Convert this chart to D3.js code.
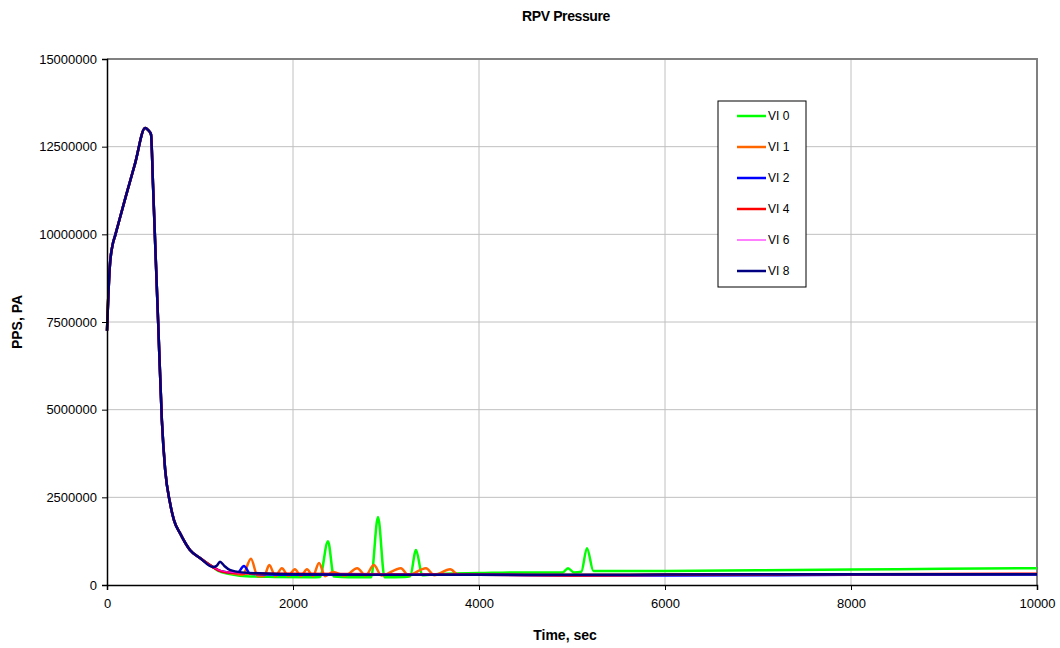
<!DOCTYPE html>
<html>
<head>
<meta charset="utf-8">
<script src="https://cdn.jsdelivr.net/npm/d3@7"></script>
<style>
  body { margin: 0; background: #fff; }
  text { font-family: "Liberation Sans", Arial, sans-serif; }
</style>
</head>
<body>
<div id="chart"></div>
<script>
// chart data (time in sec, pressure in Pa)
const xTicks = [0, 2000, 4000, 6000, 8000, 10000];
const yTicks = [0, 2500000, 5000000, 7500000, 10000000, 12500000, 15000000];
const seriesNames = ["VI 0", "VI 1", "VI 2", "VI 4", "VI 6", "VI 8"];
const seriesColors = ["#00ff00", "#ff6600", "#0000ff", "#ff0000", "#ff00ff", "#000080"];
const seriesWidths = [2.5, 2.5, 2.5, 2.5, 1, 2.5];

// shared blowdown part, same for all runs
const headTime = [0, 28, 60, 86, 200, 300, 410, 440, 473, 495, 520, 550, 590, 625, 677, 720, 785, 892, 1000, 1140];
const headPres = [7250000, 9000000, 9700000, 9950000, 11060000, 12000000, 13030000, 12980000, 12850000, 11400000, 9600000, 7500000, 4700000, 3300000, 2350000, 1850000, 1480000, 1000000, 770000, 510000];

// tails after the runs split up
const vi0Time = [1200, 1350, 1500, 1800, 2200, 2290, 2376, 2440, 2600, 2840, 2914, 2985, 3200, 3260, 3323, 3390, 3600, 4000, 4500, 4800, 4900, 4957, 5020, 5100, 5161, 5230, 5500, 6000, 7000, 8000, 9000, 10000];
const vi0Pres = [400000, 300000, 250000, 230000, 220000, 230000, 1250000, 240000, 220000, 220000, 1940000, 220000, 230000, 250000, 1000000, 280000, 320000, 340000, 360000, 360000, 360000, 480000, 360000, 380000, 1050000, 400000, 400000, 400000, 420000, 440000, 460000, 480000];

const vi1Time = [1200, 1350, 1460, 1548, 1620, 1690, 1745, 1810, 1880, 1950, 2020, 2085, 2150, 2215, 2280, 2345, 2430, 2560, 2690, 2780, 2870, 2950, 3160, 3240, 3430, 3520, 3690, 3780, 4000, 5000, 6000, 8000, 10000];
const vi1Pres = [420000, 330000, 290000, 750000, 250000, 260000, 570000, 250000, 480000, 260000, 450000, 260000, 450000, 260000, 630000, 250000, 370000, 270000, 480000, 270000, 570000, 270000, 480000, 280000, 480000, 280000, 450000, 290000, 300000, 290000, 300000, 310000, 310000];

const vi2Time = [1200, 1300, 1400, 1473, 1540, 1700, 2000, 3000, 4000, 5000, 6000, 8000, 10000];
const vi2Pres = [420000, 360000, 340000, 540000, 320000, 300000, 290000, 290000, 290000, 270000, 270000, 290000, 300000];

const vi4Time = [1200, 1300, 1500, 2000, 3000, 4000, 5000, 6000, 8000, 10000];
const vi4Pres = [420000, 360000, 330000, 320000, 310000, 290000, 270000, 290000, 310000, 320000];

const vi6Time = [1200, 1300, 1500, 2000, 3000, 4000, 6000, 10000];
const vi6Pres = [430000, 370000, 330000, 320000, 310000, 300000, 300000, 310000];

const vi8Time = [1180, 1215, 1260, 1320, 1450, 1700, 2000, 3000, 4000, 5000, 6000, 8000, 10000];
const vi8Pres = [550000, 660000, 550000, 430000, 360000, 330000, 310000, 290000, 290000, 290000, 300000, 310000, 310000];

const tailTimes = [vi0Time, vi1Time, vi2Time, vi4Time, vi6Time, vi8Time];
const tailPres = [vi0Pres, vi1Pres, vi2Pres, vi4Pres, vi6Pres, vi8Pres];

const width = 1060, height = 648;
const margin = {top: 59, right: 23, bottom: 63, left: 107};

const svg = d3.select("#chart").append("svg")
  .attr("width", width)
  .attr("height", height);

const x = d3.scaleLinear().domain([0, 10000]).range([margin.left, width - margin.right]);
const y = d3.scaleLinear().domain([0, 15000000]).range([height - margin.bottom, margin.top]);

// grid
svg.append("g").selectAll("line")
  .data(yTicks.slice(1, -1))
  .join("line")
  .attr("x1", x(0)).attr("x2", x(10000))
  .attr("y1", d => y(d)).attr("y2", d => y(d))
  .attr("stroke", "#c0c0c0").attr("stroke-width", 1);
svg.append("g").selectAll("line")
  .data(xTicks.slice(1, -1))
  .join("line")
  .attr("y1", y(0)).attr("y2", y(15000000))
  .attr("x1", d => x(d)).attr("x2", d => x(d))
  .attr("stroke", "#c0c0c0").attr("stroke-width", 1);

// top and right frame
svg.append("path")
  .attr("d", `M${x(0)},${y(15000000)}H${x(10000)}V${y(0)}`)
  .attr("fill", "none").attr("stroke", "#808080").attr("stroke-width", 2);

// lines
const line = d3.line()
  .x(d => x(d[0]))
  .y(d => y(d[1]))
  .curve(d3.curveMonotoneX);

const plot = svg.append("g");
seriesNames.forEach((name, i) => {
  const pts = headTime.map((t, j) => [t, headPres[j]])
    .concat(tailTimes[i].map((t, j) => [t, tailPres[i][j]]));
  plot.append("path")
    .datum(pts)
    .attr("d", line)
    .attr("fill", "none")
    .attr("stroke", seriesColors[i])
    .attr("stroke-width", seriesWidths[i])
    .attr("stroke-linejoin", "round");
});

// axes
const xAxis = svg.append("g")
  .attr("transform", `translate(0,${y(0)})`)
  .call(d3.axisBottom(x).tickValues(xTicks).tickSize(5).tickPadding(9).tickFormat(d3.format("d")));
const yAxis = svg.append("g")
  .attr("transform", `translate(${x(0)},0)`)
  .call(d3.axisLeft(y).tickValues(yTicks).tickSize(5).tickPadding(5).tickFormat(d3.format("d")));
[xAxis, yAxis].forEach(a => {
  a.select(".domain").attr("stroke", "#000").attr("stroke-width", 1.5);
  a.selectAll(".tick line").attr("stroke", "#000");
  a.selectAll("text").attr("font-size", 13).attr("fill", "#000")
    .attr("font-family", "Liberation Sans, Arial, sans-serif");
});

// titles
svg.append("text")
  .attr("x", 566).attr("y", 21)
  .attr("text-anchor", "middle")
  .attr("font-size", 14).attr("font-weight", "bold")
  .attr("letter-spacing", -0.4)
  .text("RPV Pressure");
svg.append("text")
  .attr("x", 565).attr("y", 640)
  .attr("text-anchor", "middle")
  .attr("font-size", 14).attr("font-weight", "bold")
  .text("Time, sec");
svg.append("text")
  .attr("transform", "translate(22,322) rotate(-90)")
  .attr("text-anchor", "middle")
  .attr("font-size", 14).attr("font-weight", "bold")
  .text("PPS, PA");

// legend
const legend = svg.append("g").attr("transform", "translate(718,101)");
legend.append("rect")
  .attr("width", 88).attr("height", 186)
  .attr("fill", "#fff").attr("stroke", "#000").attr("stroke-width", 1);
const items = legend.selectAll("g.item")
  .data(seriesNames)
  .join("g")
  .attr("class", "item")
  .attr("transform", (d, i) => `translate(0,${15 + i * 31})`);
items.append("line")
  .attr("x1", 19).attr("x2", 48)
  .attr("stroke", (d, i) => seriesColors[i])
  .attr("stroke-width", (d, i) => seriesWidths[i]);
items.append("text")
  .attr("x", 50).attr("y", 4)
  .attr("font-size", 12)
  .text(d => d);
</script>
</body>
</html>
